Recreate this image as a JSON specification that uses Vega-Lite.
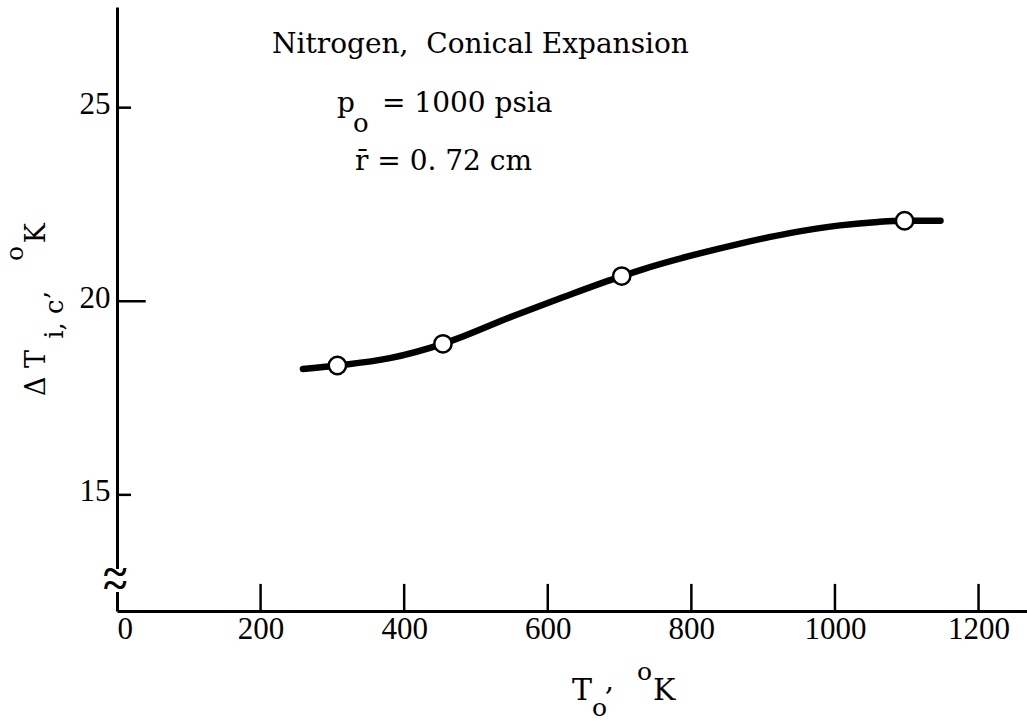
{
  "$schema": "https://vega.github.io/schema/vega-lite/v6.json",
  "width": 910,
  "height": 604,
  "autosize": {"type": "none"},
  "padding": {"left": 117, "top": 7, "right": 0, "bottom": 111},
  "background": "white",
  "config": {"view": {"stroke": null}, "font": "DejaVu Serif"},
  "datasets": {
    "curve": [
      {"T0": 259, "dT": 18.25},
      {"T0": 307, "dT": 18.34},
      {"T0": 380, "dT": 18.53},
      {"T0": 454, "dT": 18.9},
      {"T0": 552, "dT": 19.62},
      {"T0": 622, "dT": 20.11},
      {"T0": 703, "dT": 20.65},
      {"T0": 728, "dT": 20.8},
      {"T0": 798, "dT": 21.17},
      {"T0": 868, "dT": 21.49},
      {"T0": 937, "dT": 21.76},
      {"T0": 1007, "dT": 21.96},
      {"T0": 1060, "dT": 22.05},
      {"T0": 1097, "dT": 22.08},
      {"T0": 1147, "dT": 22.08}
    ],
    "measured": [
      {"T0": 307, "dT": 18.34},
      {"T0": 454, "dT": 18.9},
      {"T0": 703, "dT": 20.65},
      {"T0": 1097, "dT": 22.08}
    ],
    "xticks": [{"v": 200}, {"v": 400}, {"v": 600}, {"v": 800}, {"v": 1000}, {"v": 1200}],
    "yticks": [{"v": 25}, {"v": 15}],
    "ytickLong": [{"v": 20}],
    "one": [{}]
  },
  "layer": [
    {
      "data": {"name": "curve"},
      "mark": {"type": "line", "interpolate": "monotone", "color": "black", "strokeWidth": 6.5, "strokeCap": "round"},
      "encoding": {
        "x": {
          "field": "T0", "type": "quantitative",
          "scale": {"domain": [0, 1267.5], "nice": false, "zero": false},
          "axis": {
            "title": null, "values": [0, 200, 400, 600, 800, 1000, 1200], "format": "d", "ticks": false, "grid": false,
            "domainColor": "black", "domainWidth": 3, "labelFont": "Liberation Serif", "labelFontSize": 31,
            "labelColor": "black", "labelPadding": 3, "labelFlush": true
          }
        },
        "y": {
          "field": "dT", "type": "quantitative",
          "scale": {"domain": [12, 27.6], "nice": false, "zero": false},
          "axis": {
            "title": null, "values": [15, 20, 25], "format": "d", "ticks": false, "grid": false,
            "domainColor": "black", "domainWidth": 3, "labelFont": "Liberation Serif", "labelFontSize": 31,
            "labelColor": "black", "labelPadding": 7, "labelOffset": -3
          }
        }
      }
    },
    {
      "data": {"name": "measured"},
      "mark": {"type": "point", "filled": true, "fill": "white", "stroke": "black", "strokeWidth": 2.5, "size": 300, "opacity": 1},
      "encoding": {
        "x": {"field": "T0", "type": "quantitative"},
        "y": {"field": "dT", "type": "quantitative"}
      }
    },
    {
      "data": {"name": "xticks"},
      "mark": {"type": "rule", "color": "black", "strokeWidth": 2.5},
      "encoding": {
        "x": {"field": "v", "type": "quantitative"},
        "y": {"datum": 12},
        "y2": {"datum": 12.7}
      }
    },
    {
      "data": {"name": "yticks"},
      "mark": {"type": "rule", "color": "black", "strokeWidth": 2.5},
      "encoding": {
        "y": {"field": "v", "type": "quantitative"},
        "x": {"datum": 0},
        "x2": {"datum": 19.5}
      }
    },
    {
      "data": {"name": "ytickLong"},
      "mark": {"type": "rule", "color": "black", "strokeWidth": 2.5},
      "encoding": {
        "y": {"field": "v", "type": "quantitative"},
        "x": {"datum": 0},
        "x2": {"datum": 40}
      }
    },
    {
      "data": {"name": "one"},
      "mark": {"type": "rule", "color": "white", "strokeWidth": 6},
      "encoding": {"x": {"datum": 0}, "y": {"datum": 13.086}, "y2": {"datum": 12.49}}
    },
    {
      "data": {"name": "one"},
      "mark": {"type": "text", "text": ["~", "~"], "lineHeight": 13.5, "font": "Liberation Serif", "fontSize": 44, "fontWeight": "bold", "align": "center", "baseline": "middle", "color": "black"},
      "encoding": {"x": {"datum": -2.5}, "y": {"datum": 12.99}}
    },
    {
      "data": {"name": "one"},
      "mark": {"type": "text", "text": "Nitrogen,\u00a0 Conical Expansion", "fontSize": 28, "align": "left", "baseline": "alphabetic", "color": "black"},
      "encoding": {"x": {"datum": 216}, "y": {"datum": 26.41}}
    },
    {
      "data": {"name": "one"},
      "mark": {"type": "text", "text": "p", "fontSize": 28, "align": "left", "baseline": "alphabetic", "color": "black"},
      "encoding": {"x": {"datum": 306.4}, "y": {"datum": 24.9}}
    },
    {
      "data": {"name": "one"},
      "mark": {"type": "text", "text": "o", "fontSize": 26, "align": "left", "baseline": "alphabetic", "color": "black"},
      "encoding": {"x": {"datum": 328.7}, "y": {"datum": 24.38}}
    },
    {
      "data": {"name": "one"},
      "mark": {"type": "text", "text": "= 1000 psia", "fontSize": 28, "align": "left", "baseline": "alphabetic", "color": "black"},
      "encoding": {"x": {"datum": 369.1}, "y": {"datum": 24.9}}
    },
    {
      "data": {"name": "one"},
      "mark": {"type": "text", "text": "r̄ = 0. 72 cm", "fontSize": 28, "align": "left", "baseline": "alphabetic", "color": "black"},
      "encoding": {"x": {"datum": 331.5}, "y": {"datum": 23.39}}
    },
    {
      "data": {"name": "one"},
      "mark": {"type": "text", "text": "T", "fontSize": 30, "align": "left", "baseline": "alphabetic", "color": "black"},
      "encoding": {"x": {"datum": 633.7}, "y": {"datum": 9.7}}
    },
    {
      "data": {"name": "one"},
      "mark": {"type": "text", "text": "o", "fontSize": 25, "align": "left", "baseline": "alphabetic", "color": "black"},
      "encoding": {"x": {"datum": 661.6}, "y": {"datum": 9.29}}
    },
    {
      "data": {"name": "one"},
      "mark": {"type": "text", "text": ",", "fontSize": 28, "align": "left", "baseline": "alphabetic", "color": "black"},
      "encoding": {"x": {"datum": 679.7}, "y": {"datum": 9.96}}
    },
    {
      "data": {"name": "one"},
      "mark": {"type": "text", "text": "o", "fontSize": 25, "align": "left", "baseline": "alphabetic", "color": "black"},
      "encoding": {"x": {"datum": 724.2}, "y": {"datum": 10.22}}
    },
    {
      "data": {"name": "one"},
      "mark": {"type": "text", "text": "K", "fontSize": 30, "align": "left", "baseline": "alphabetic", "color": "black"},
      "encoding": {"x": {"datum": 746.5}, "y": {"datum": 9.7}}
    },
    {
      "data": {"name": "one"},
      "mark": {"type": "text", "text": "Δ T", "fontSize": 27, "angle": 270, "align": "left", "baseline": "alphabetic", "color": "black"},
      "encoding": {"x": {"datum": -100.3}, "y": {"datum": 17.55}}
    },
    {
      "data": {"name": "one"},
      "mark": {"type": "text", "text": "i, c’", "fontSize": 26, "angle": 270, "align": "left", "baseline": "alphabetic", "color": "black"},
      "encoding": {"x": {"datum": -75.2}, "y": {"datum": 19.03}}
    },
    {
      "data": {"name": "one"},
      "mark": {"type": "text", "text": "o", "fontSize": 25, "angle": 270, "align": "left", "baseline": "alphabetic", "color": "black"},
      "encoding": {"x": {"datum": -130.9}, "y": {"datum": 21.04}}
    },
    {
      "data": {"name": "one"},
      "mark": {"type": "text", "text": "K", "fontSize": 27, "angle": 270, "align": "left", "baseline": "alphabetic", "color": "black"},
      "encoding": {"x": {"datum": -100.3}, "y": {"datum": 21.5}}
    }
  ]
}
